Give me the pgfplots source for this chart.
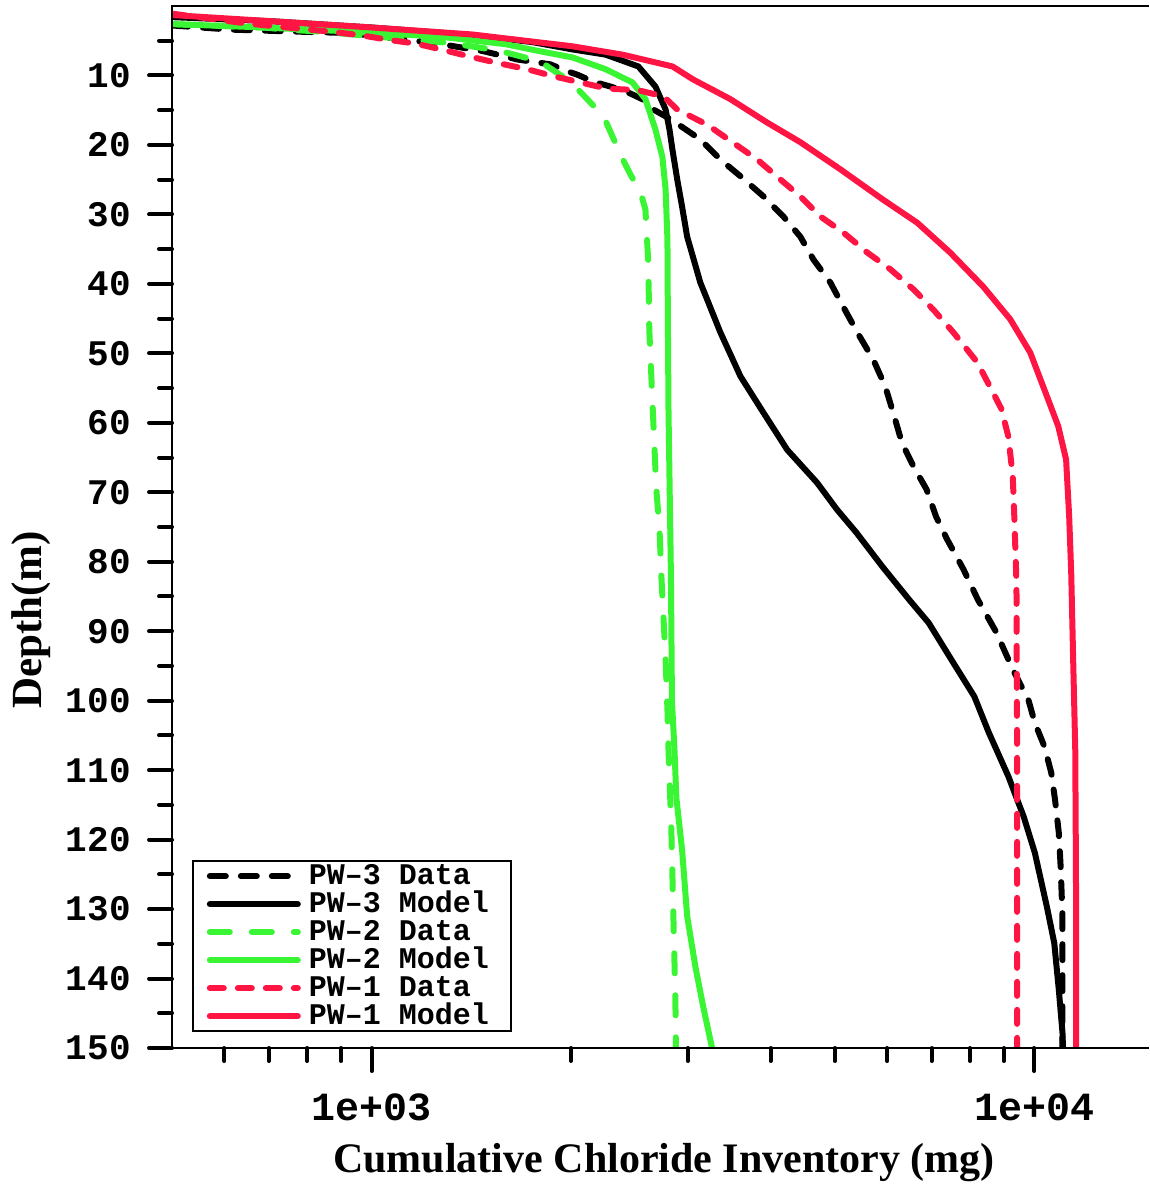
\documentclass[border=0pt]{standalone}
\usepackage{pgfplots}
\pgfplotsset{compat=1.18}
\usepackage{fontspec}
\setmainfont{Liberation Serif}
\newfontfamily\mono{Liberation Mono}
\definecolor{pwgreen}{RGB}{58,245,52}
\definecolor{pwred}{RGB}{255,21,68}

\begin{document}
\begin{tikzpicture}
\begin{axis}[
  scale only axis, width=488.5pt, height=521pt,
  xmode=log, xmin=500, xmax=14900,
  ymin=0, ymax=150, y dir=reverse,
  axis line style={draw=none},
  xtick={1000,10000}, xticklabels={1e+03,1e+04},
  minor xtick={600,700,800,900,2000,3000,4000,5000,6000,7000,8000,9000},
  ytick={10,20,...,150},
  minor ytick={5,15,...,145},
  tick align=outside,
  xtick pos=lower, ytick pos=left,
  major tick length=11.5pt, minor tick length=6.5pt,
  tick style={black, line width=2pt, line cap=round},
  /pgf/number format/assume math mode=true,
  ticklabel style={inner sep=0pt},
  yticklabel shift=9pt,
  yticklabel style={anchor=east, font=\mono\bfseries\fontsize{18}{18}\selectfont},
  xticklabel style={anchor=north, yshift=-11pt, font=\mono\bfseries\fontsize{20}{20}\selectfont},
  legend cell align=left,
  legend image code/.code={\draw[#1, line cap=round] (0pt,0pt) -- (44pt,0pt);},
  legend style={
    at={(axis cs:500,150)}, anchor=south west, xshift=10pt, yshift=8pt,
    draw=black, line width=0.8pt, fill=white,
    inner xsep=7pt, inner ysep=0.5pt, row sep=0pt,
    font=\mono\bfseries\fontsize{15}{15}\selectfont,
    nodes={text height=11.25pt, text depth=2.75pt, inner ysep=0pt, inner xsep=4pt}
  },
]
\addplot[black, line width=3pt, dash pattern=on 8pt off 7.5pt, line cap=round, line join=round] coordinates {
(500,2.8)(613,3.4)(781,3.7)(930,3.9)(1257,5.4)(1475,6.5)(1660,7.7)(1862,8.4)(1975,9.4)(2046,9.9)(2162,10.9)(2295,11.6)(2433,12.4)(2574,13.5)(2663,14.9)(2828,16.3)(3134,19.2)(3361,22.1)(3603,24.5)(3903,27.4)(4182,30.3)(4436,33.2)(4643,36.5)(4924,39.8)(5150,43.3)(5408,47.0)(5716,50.9)(5961,54.8)(6150,59.1)(6315,62.9)(6575,66.3)(6880,69.6)(7110,73.5)(7390,76.8)(7820,81.1)(8225,85.5)(8770,90.2)(9280,95.5)(9800,99.9)(10020,103.2)(10360,106.6)(10610,110.4)(10750,114.3)(10890,119)(10960,123.9)(11030,131)(11030,150)
};
\addlegendentry{PW–3 Data}
\addplot[black, line width=3pt, line cap=round, line join=round] coordinates {
(500,1.6)(709,2.2)(1003,3.1)(1420,4.2)(1750,5.2)(2010,6.25)(2255,7.0)(2527,8.7)(2682,11.6)(2778,14.9)(2816,17.8)(2845,20.7)(2893,25.0)(2942,28.9)(2994,33.2)(3134,39.8)(3361,47)(3603,53.3)(3900,58.5)(4240,63.9)(4700,68.6)(5040,72.5)(5390,75.8)(5900,80.7)(6480,85.5)(6930,88.8)(7500,94.1)(8120,99.4)(8540,104.6)(9140,110.9)(9640,116.7)(10020,121.9)(10450,129.7)(10720,134.9)(10890,141.6)(11030,147.8)(11050,150)
};
\addlegendentry{PW–3 Model}
\addplot[pwgreen, line width=3pt, dash pattern=on 10pt off 11pt, line cap=round, line join=round] coordinates {
(500,2.6)(687,3.1)(750,3.4)(838,3.7)(1306,5.3)(1554,6.4)(1798,8.0)(1975,10.6)(2030,11.6)(2240,15.9)(2383,21.7)(2460,24.3)(2546,26.8)(2590,29.3)(2616,37)(2625,46.6)(2645,53.8)(2663,60.3)(2690,69.6)(2720,75.4)(2737,81.9)(2778,94.1)(2796,101.3)(2806,107)(2834,118.6)(2855,131.5)(2874,143)(2880,150)
};
\addlegendentry{PW–2 Data}
\addplot[pwgreen, line width=3pt, line cap=round, line join=round] coordinates {
(500,2.6)(650,3.0)(900,3.6)(1266,4.4)(1593,5.5)(1792,6.5)(2010,7.4)(2255,9.1)(2476,11.0)(2590,13.4)(2682,17.8)(2747,21.7)(2778,26.4)(2796,33.6)(2800,45)(2806,58)(2830,82)(2840,100)(2865,107)(2884,114)(2942,121.5)(2994,131)(3081,138.3)(3165,144)(3265,150)
};
\addlegendentry{PW–2 Model}
\addplot[pwred, line width=3pt, dash pattern=on 7pt off 7pt, line cap=round, line join=round] coordinates {
(500,1.1)(646,2.5)(868,3.7)(962,4.2)(1065,4.9)(1165,5.4)(1293,6.4)(1410,7.3)(1549,8.2)(1718,9.1)(1880,10.1)(2066,11.0)(2270,11.9)(2519,12.1)(2757,13.0)(2893,14.9)(3212,17.1)(3515,19.7)(3820,22.1)(4143,25.0)(4436,27.4)(4756,30.3)(5150,32.6)(5600,35.5)(6066,37.9)(6575,40.8)(7041,43.7)(7553,47.0)(8205,51.3)(8670,55.7)(8920,58.0)(9140,62.0)(9280,67.7)(9330,73.5)(9400,83.0)(9420,107)(9420,150)
};
\addlegendentry{PW–1 Data}
\addplot[pwred, line width=3pt, line cap=round, line join=round] coordinates {
(500,1.3)(709,2.2)(1003,3.1)(1420,4.1)(2010,5.8)(2392,7.0)(2845,8.7)(3060,10.6)(3479,13.4)(3957,16.8)(4436,19.6)(5097,23.5)(5918,27.9)(6660,31.2)(7468,35.5)(8375,40.4)(9200,45.1)(9862,49.9)(10499,56.7)(10870,60.5)(11170,65.3)(11290,73.5)(11370,81.6)(11450,94.5)(11530,107)(11560,125)(11570,150)
};
\addlegendentry{PW–1 Model}
\end{axis}
\draw[line width=1pt] (current axis.south east) -- (current axis.south west) -- (current axis.north west) -- (current axis.north east);
\node[font=\bfseries\fontsize{21}{21}\selectfont, anchor=base] at ([shift={(246pt,-62.5pt)}]current axis.south west) {Cumulative Chloride Inventory (mg)};
\node[font=\bfseries\fontsize{21.5}{21.5}\selectfont, rotate=90, anchor=center] at ([shift={(-70.5pt,214pt)}]current axis.south west) {Depth(m)};
\pgfresetboundingbox
\path[use as bounding box] ([shift={(-86pt,-68.5pt)}]current axis.south west) rectangle ([shift={(0pt,3pt)}]current axis.north east);
\end{tikzpicture}
\end{document}
